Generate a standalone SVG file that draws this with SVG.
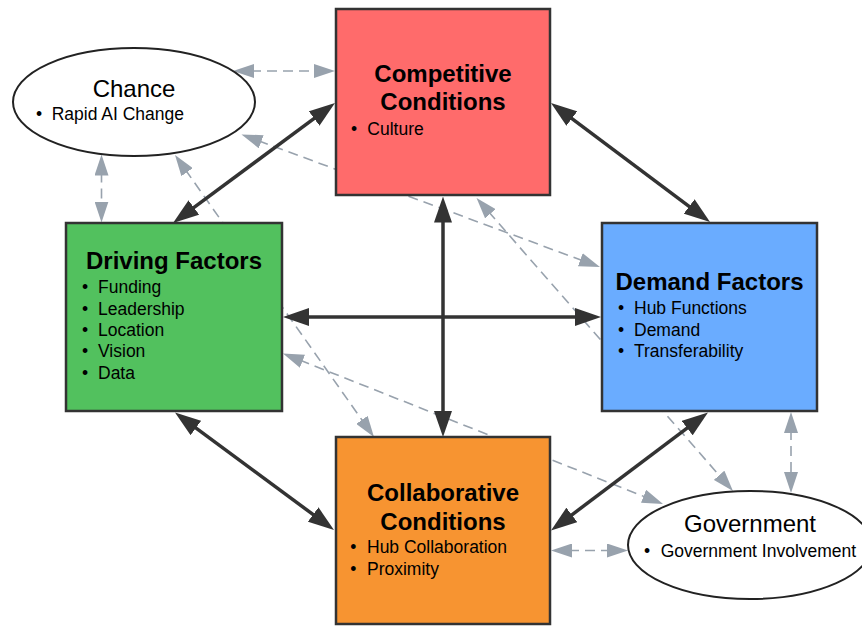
<svg xmlns="http://www.w3.org/2000/svg" width="862" height="626" viewBox="0 0 862 626">
  <defs>
    <style>
      .box { stroke: #333333; stroke-width: 2.5; }
      .oval { fill: #ffffff; stroke: #222222; stroke-width: 2; }
      .title { font-family: "Liberation Sans", Arial, sans-serif; font-size: 24px; font-weight: bold; fill: #000000; text-anchor: middle; }
      .otitle { font-family: "Liberation Sans", Arial, sans-serif; font-size: 24px; fill: #000000; text-anchor: middle; }
      .item { font-family: "Liberation Sans", Arial, sans-serif; font-size: 17.5px; fill: #000000; }
      .solid { fill: none; stroke: #333333; stroke-width: 3.5; marker-start: url(#headSolid); marker-end: url(#headSolid); }
      .dash { fill: none; stroke: #98a2ad; stroke-width: 1.6; stroke-dasharray: 10 6; marker-start: url(#headGray); marker-end: url(#headGray); }
      .dash1 { fill: none; stroke: #98a2ad; stroke-width: 1.6; stroke-dasharray: 10 6; }
    </style>
    <marker id="headSolid" markerUnits="userSpaceOnUse" markerWidth="26" markerHeight="18" refX="4" refY="9" orient="auto-start-reverse">
      <path d="M0,0 L26,9 L0,18 z" fill="#333333"/>
    </marker>
    <marker id="headGray" markerUnits="userSpaceOnUse" markerWidth="21" markerHeight="14" refX="3" refY="7" orient="auto-start-reverse">
      <path d="M0,0 L21,7 L0,14 z" fill="#98a2ad"/>
    </marker>
  </defs>

  <rect width="862" height="626" fill="#ffffff"/>

  <!-- connectors, drawn beneath the nodes -->
  <g id="connectors">
    <!-- dashed influence links -->
    <line class="dash" x1="251" y1="71" x2="317" y2="71"/>
    <line class="dash" x1="101.5" y1="172.5" x2="101.5" y2="204.5"/>
    <line class="dash" x1="791" y1="430" x2="791" y2="475"/>
    <line class="dash" x1="569" y1="550.5" x2="610" y2="550.5"/>
    <line class="dash" x1="258.4" y1="140.7" x2="583.1" y2="260.8"/>
    <line class="dash" x1="185.4" y1="169.7" x2="363.6" y2="422.3"/>
    <line class="dash" x1="488.4" y1="211.5" x2="721.1" y2="477.5"/>
    <line class="dash" x1="299.7" y1="360.1" x2="646.3" y2="497.4"/>
    <!-- main two-way links -->
    <line class="solid" x1="190.7" y1="209.9" x2="317.3" y2="116.1"/>
    <line class="solid" x1="568.6" y1="116.2" x2="692.4" y2="208.8"/>
    <line class="solid" x1="443" y1="218.5" x2="443" y2="415"/>
    <line class="solid" x1="305" y1="317" x2="579" y2="317"/>
    <line class="solid" x1="192.7" y1="425.6" x2="316.3" y2="516.9"/>
    <line class="solid" x1="690.4" y1="425.7" x2="568.6" y2="517.3"/>
  </g>

  <g id="chance">
    <ellipse class="oval" cx="134" cy="102" rx="121" ry="54"/>
    <text class="otitle" x="134" y="96.5">Chance</text>
    <text class="item" y="120"><tspan x="36">•</tspan><tspan x="51.7">Rapid AI Change</tspan></text>
  </g>

  <g id="competitive">
    <rect class="box" x="336" y="9" width="214" height="186" fill="#ff6b6b"/>
    <text class="title" x="443" y="82">Competitive</text>
    <text class="title" x="443" y="110">Conditions</text>
    <text class="item" y="135"><tspan x="351">•</tspan><tspan x="367.3">Culture</tspan></text>
  </g>

  <g id="driving">
    <rect class="box" x="66" y="223" width="216" height="188" fill="#52c15e"/>
    <text class="title" x="174" y="269">Driving Factors</text>
    <text class="item" y="293.3"><tspan x="82">•</tspan><tspan x="98">Funding</tspan></text>
    <text class="item" y="314.8"><tspan x="82">•</tspan><tspan x="98">Leadership</tspan></text>
    <text class="item" y="336.1"><tspan x="82">•</tspan><tspan x="98">Location</tspan></text>
    <text class="item" y="357.4"><tspan x="82">•</tspan><tspan x="98">Vision</tspan></text>
    <text class="item" y="378.7"><tspan x="82">•</tspan><tspan x="98">Data</tspan></text>
  </g>

  <g id="demand">
    <rect class="box" x="602" y="223" width="215" height="188" fill="#6aacff"/>
    <text class="title" x="709.5" y="290">Demand Factors</text>
    <text class="item" y="314"><tspan x="618">•</tspan><tspan x="634">Hub Functions</tspan></text>
    <text class="item" y="335.5"><tspan x="618">•</tspan><tspan x="634">Demand</tspan></text>
    <text class="item" y="357"><tspan x="618">•</tspan><tspan x="634">Transferability</tspan></text>
  </g>

  <g id="collaborative">
    <rect class="box" x="336" y="437" width="214" height="187" fill="#f79431"/>
    <text class="title" x="443" y="501">Collaborative</text>
    <text class="title" x="443" y="530">Conditions</text>
    <text class="item" y="553.3"><tspan x="350.3">•</tspan><tspan x="367">Hub Collaboration</tspan></text>
    <text class="item" y="575"><tspan x="350.3">•</tspan><tspan x="367">Proximity</tspan></text>
  </g>

  <g id="government">
    <ellipse class="oval" cx="750" cy="545" rx="122" ry="54"/>
    <text class="otitle" x="750" y="532">Government</text>
    <text class="item" y="557"><tspan x="644">•</tspan><tspan x="660.7">Government Involvement</tspan></text>
  </g>
</svg>
